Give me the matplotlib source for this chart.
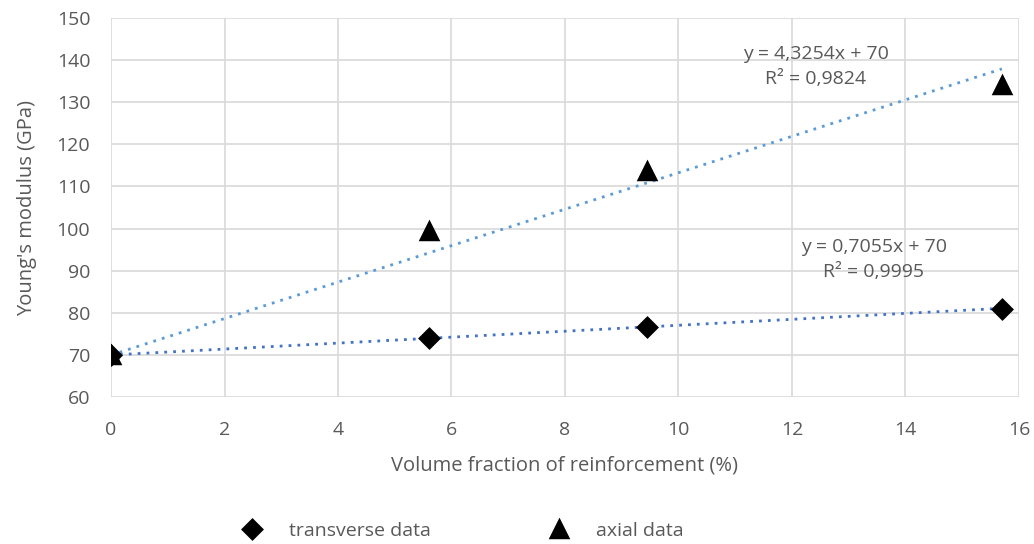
import matplotlib.pyplot as plt
import numpy as np

plt.rcParams['font.family'] = ['Open Sans', 'DejaVu Sans']

vol_frac = np.array([0.0, 5.6, 9.45, 15.7])
e_transverse = np.array([70.0, 74.0, 76.6, 80.8])
e_axial = np.array([70.0, 99.4, 113.6, 134.0])

slope_transverse = 0.7055
slope_axial = 4.3254
intercept = 70
r2_transverse = '0,9995'
r2_axial = '0,9824'

grey = '#595959'
grid = '#d9d9d9'

fig = plt.figure(figsize=(10.34, 5.44), dpi=100)
ax = fig.add_axes([0.1074, 0.270, 0.878, 0.697])

x_fit = np.array([vol_frac.min(), vol_frac.max()])
ax.plot(x_fit, slope_axial * x_fit + intercept, linestyle=(0, (1, 2.2)),
        color='#5b9bd5', linewidth=2, zorder=2)
ax.plot(x_fit, slope_transverse * x_fit + intercept, linestyle=(0, (1, 2.2)),
        color='#4472c4', linewidth=2, zorder=2)

ax.plot(vol_frac, e_transverse, 'D', color='black', markersize=9,
        markeredgewidth=2.5, markeredgecolor='black', linestyle='none',
        label='transverse data', zorder=3)
ax.plot(vol_frac, e_axial, '^', color='black', markersize=11,
        markeredgewidth=2.5, markeredgecolor='black', linestyle='none',
        label='axial data', zorder=3)

ax.text(12.42, 138.4, 'y = 4,3254x + 70\nR² = ' + r2_axial, ha='center', va='center',
        color=grey, fontsize=14, linespacing=1.5)
ax.text(13.44, 92.7, 'y = 0,7055x + 70\nR² = ' + r2_transverse, ha='center', va='center',
        color=grey, fontsize=14, linespacing=1.5)

ax.set_xlim(0, 16)
ax.set_ylim(60, 150)
ax.set_xticks(np.arange(0, 17, 2))
ax.set_yticks(np.arange(60, 151, 10))
ax.grid(True, color=grid, linewidth=1.2)
ax.set_axisbelow(True)
for s in ax.spines.values():
    s.set_visible(False)
ax.tick_params(length=0, labelsize=14, labelcolor=grey)
ax.tick_params(axis='x', pad=17)
ax.tick_params(axis='y', pad=15)

ax.set_xlabel('Volume fraction of reinforcement (%)', color=grey, fontsize=14.5, labelpad=12)
ax.set_ylabel("Young's modulus (GPa)", color=grey, fontsize=14.5, labelpad=14)

fig.legend(loc='lower center', bbox_to_anchor=(0.443, -0.025), ncol=2, frameon=False,
           fontsize=14, labelcolor=grey, columnspacing=5.6, handletextpad=0.9)

fig.savefig('out.png', dpi=100)
